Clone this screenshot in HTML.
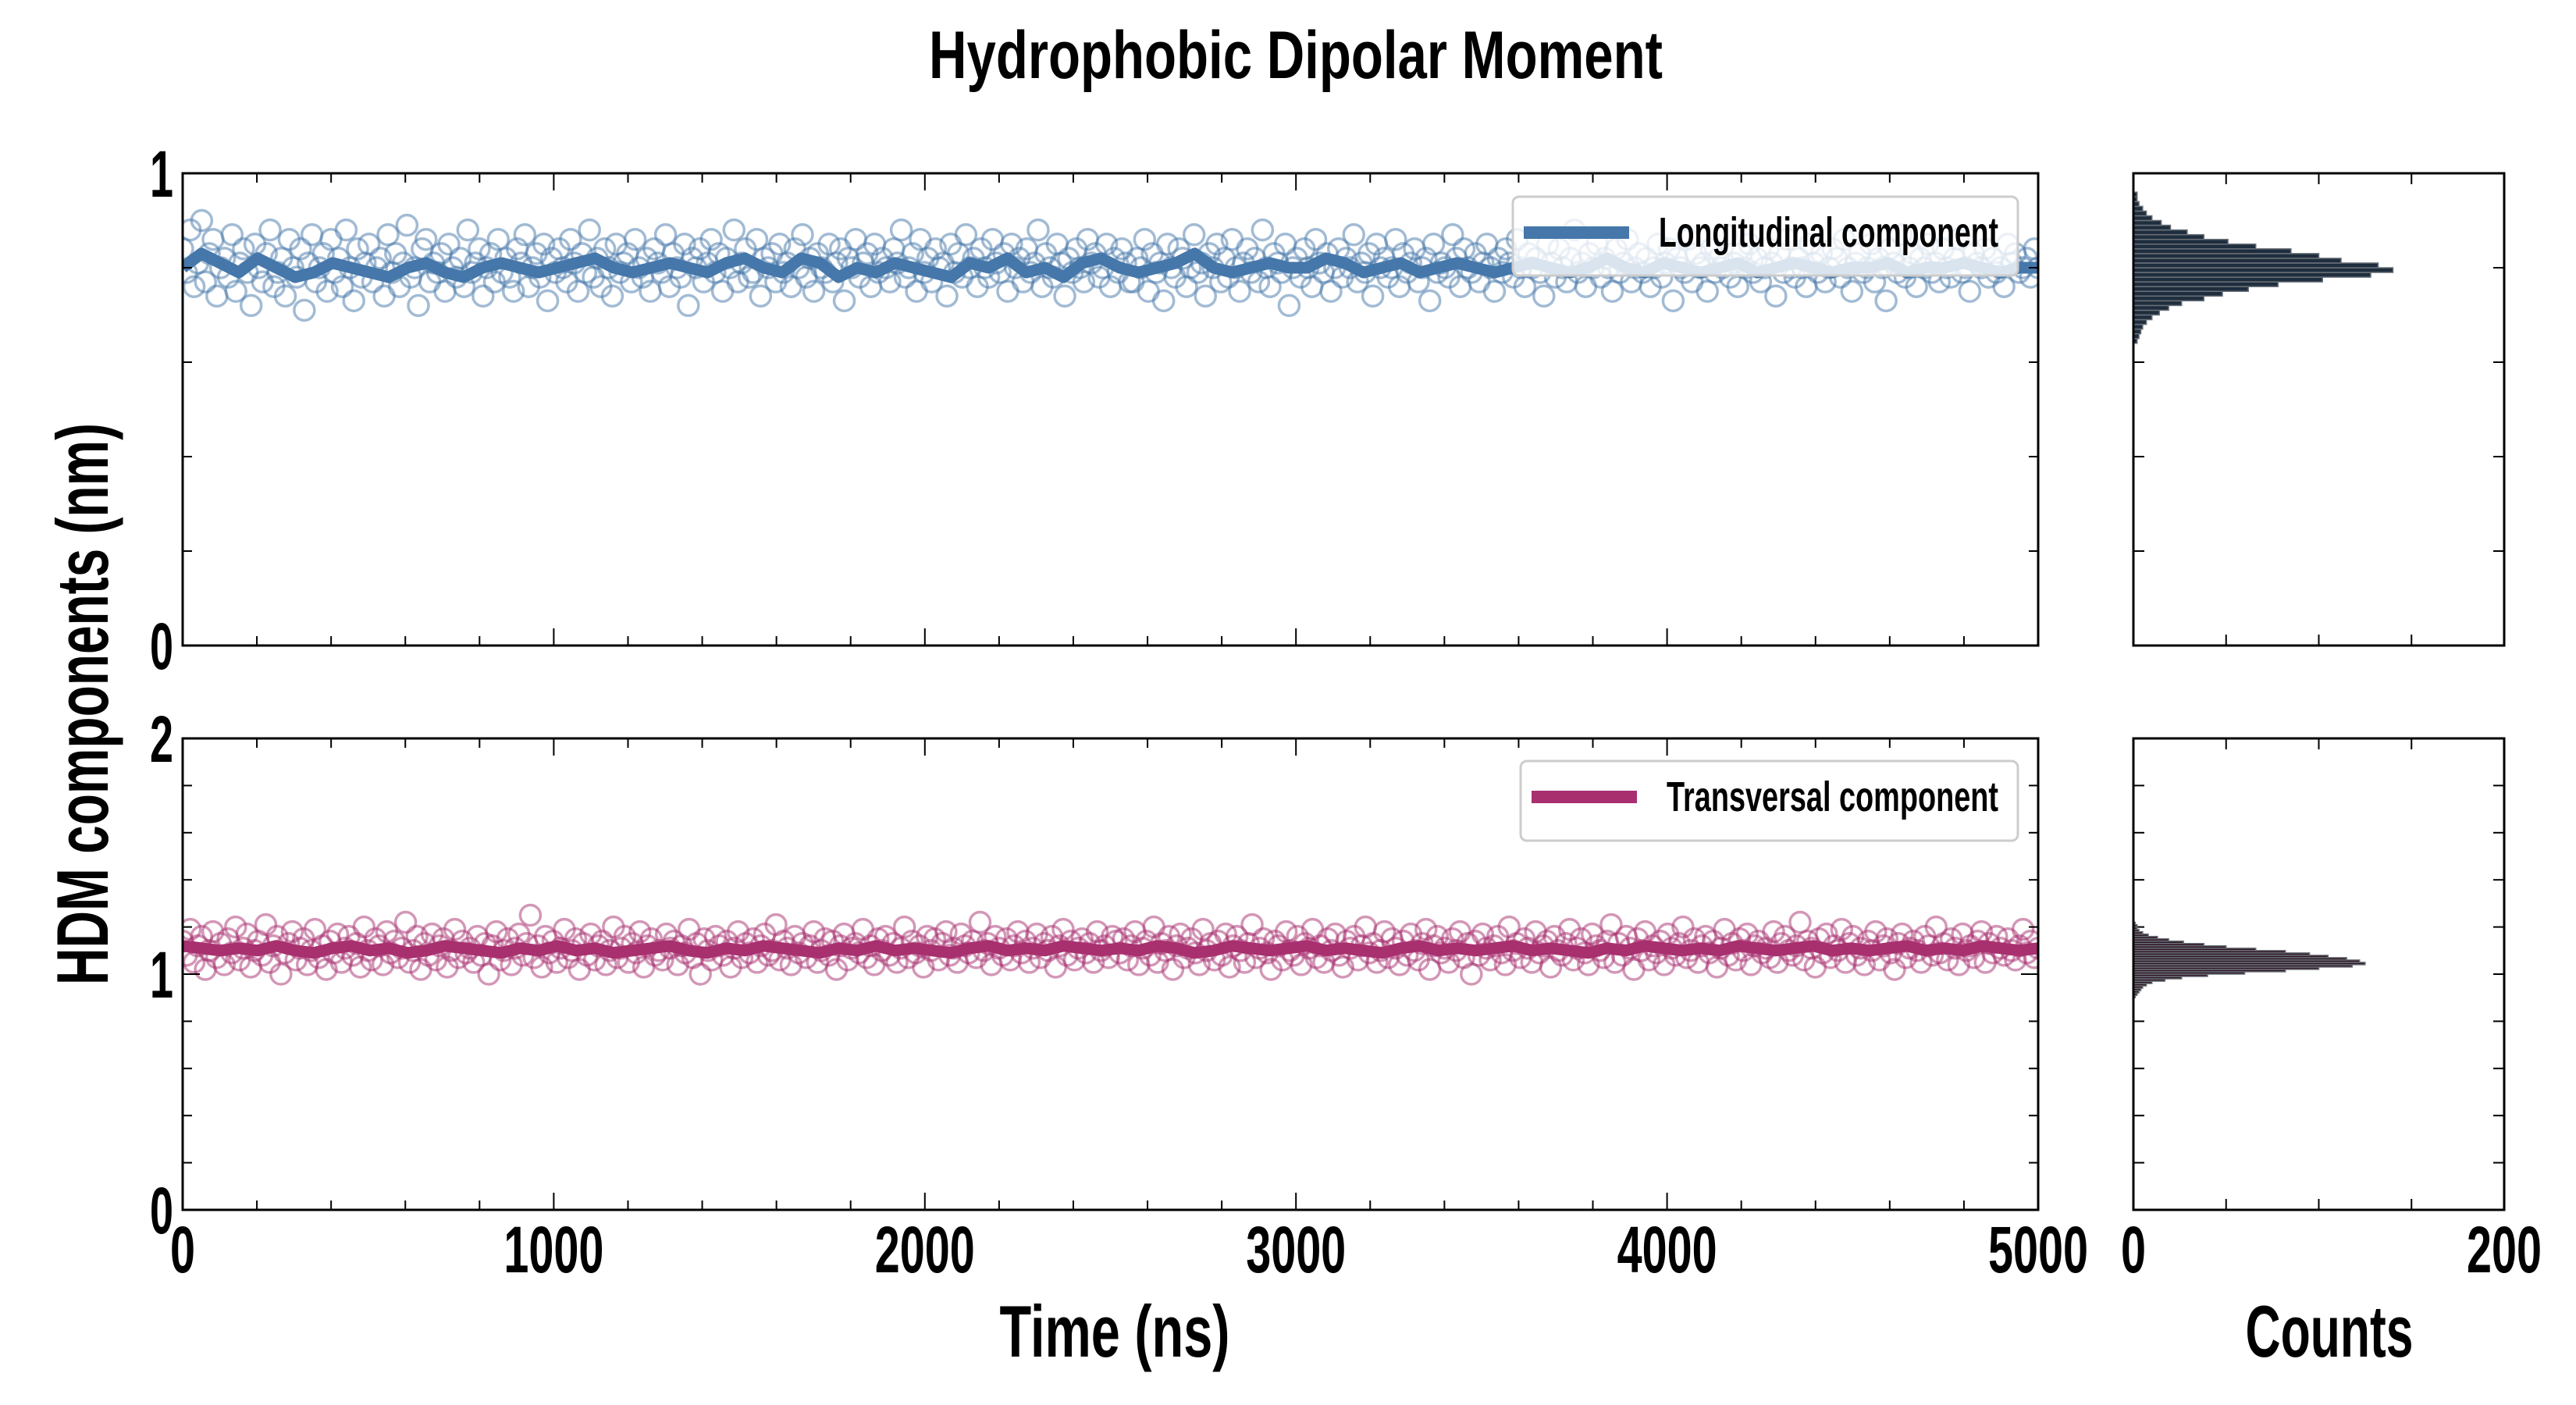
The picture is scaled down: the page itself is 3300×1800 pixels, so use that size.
<!DOCTYPE html>
<html><head><meta charset="utf-8"><title>Hydrophobic Dipolar Moment</title>
<style>
html,body{margin:0;padding:0;background:#fff;}
svg{display:block;}
text{font-family:"Liberation Sans Narrow","Liberation Sans",sans-serif;font-weight:bold;fill:#000;}
</style></head>
<body>
<svg id="chart" width="3300" height="1800" viewBox="0 0 3300 1800" xmlns="http://www.w3.org/2000/svg">
<g id="layer"></g>
</svg>
<script>
// ---- data ----
const timeMax = 5000;
const xTickLabels = [0, 1000, 2000, 3000, 4000, 5000];
const histTickLabels = [0, 200];
const longScatter = [0.84,0.79,0.88,0.76,0.81,0.9,0.77,0.83,0.86,0.74,0.8,0.82,0.78,0.87,0.75,0.81,0.84,0.79,0.72,0.85,0.8,0.77,0.83,0.88,0.76,0.79,0.82,0.74,0.86,0.8,0.78,0.84,0.71,0.81,0.87,0.77,0.8,0.83,0.75,0.86,0.79,0.82,0.76,0.88,0.8,0.73,0.84,0.78,0.81,0.85,0.77,0.8,0.82,0.74,0.87,0.79,0.83,0.76,0.81,0.89,0.78,0.8,0.72,0.84,0.86,0.77,0.81,0.79,0.83,0.75,0.85,0.8,0.78,0.82,0.76,0.88,0.79,0.81,0.84,0.74,0.8,0.83,0.77,0.86,0.79,0.82,0.78,0.75,0.84,0.81,0.87,0.76,0.8,0.83,0.78,0.85,0.73,0.82,0.79,0.84,0.8,0.77,0.86,0.81,0.75,0.83,0.79,0.88,0.78,0.82,0.76,0.84,0.8,0.74,0.85,0.79,0.81,0.83,0.77,0.86,0.8,0.78,0.82,0.75,0.84,0.81,0.79,0.87,0.76,0.83,0.8,0.78,0.85,0.72,0.82,0.8,0.84,0.77,0.81,0.86,0.79,0.83,0.75,0.82,0.8,0.88,0.77,0.81,0.84,0.78,0.79,0.86,0.74,0.82,0.8,0.83,0.77,0.85,0.79,0.81,0.76,0.84,0.8,0.87,0.78,0.82,0.75,0.83,0.8,0.79,0.85,0.77,0.81,0.84,0.73,0.82,0.8,0.86,0.78,0.81,0.83,0.76,0.85,0.79,0.82,0.8,0.77,0.84,0.81,0.88,0.78,0.8,0.83,0.75,0.86,0.79,0.82,0.77,0.84,0.8,0.81,0.74,0.85,0.79,0.83,0.78,0.87,0.8,0.82,0.76,0.84,0.8,0.78,0.86,0.81,0.79,0.83,0.75,0.85,0.8,0.82,0.77,0.84,0.79,0.81,0.88,0.76,0.83,0.8,0.78,0.85,0.81,0.74,0.82,0.79,0.84,0.8,0.77,0.86,0.81,0.83,0.78,0.8,0.85,0.76,0.82,0.79,0.84,0.81,0.77,
0.77,0.82,0.8,0.86,0.75,0.83,0.79,0.81,0.73,0.85,0.8,0.78,0.84,0.82,0.76,0.8,0.87,0.79,0.81,0.74,0.83,0.8,0.85,0.77,0.82,0.78,0.86,0.8,0.75,0.81,0.84,0.79,0.82,0.77,0.88,0.8,0.76,0.83,0.81,0.79,0.85,0.72,0.8,0.82,0.78,0.84,0.8,0.76,0.86,0.81,0.79,0.83,0.75,0.8,0.84,0.78,0.82,0.8,0.87,0.77,0.81,0.79,0.83,0.74,0.85,0.8,0.82,0.78,0.8,0.86,0.76,0.83,0.79,0.81,0.84,0.77,0.8,0.82,0.73,0.85,0.79,0.81,0.8,0.78,0.87,0.82,0.76,0.84,0.8,0.79,0.83,0.77,0.81,0.85,0.8,0.75,0.82,0.79,0.84,0.81,0.78,0.86,0.8,0.76,0.83,0.8,0.82,0.79,0.74,0.85,0.81,0.78,0.84,0.8,0.77,0.82,0.88,0.79,0.81,0.76,0.83,0.8,0.85,0.78,0.82,0.8,0.75,0.84,0.79,0.81,0.86,0.77,0.8,0.83,0.79,0.82,0.76,0.8,0.85,0.78,0.81,0.84,0.73,0.82,0.8,0.79,0.86,0.77,0.83,0.8,0.81,0.75,0.84,0.79,0.82,0.8,0.87,0.78,0.81,0.76,0.83,0.8,0.85,0.79,0.82,0.77,0.8,0.84,0.81,0.74,0.83,0.79,0.86,0.8,0.78,0.82,0.8,0.76,0.85,0.81,0.79,0.83,0.77,0.8,0.84,0.82,0.78,0.86,0.8,0.75,0.81,0.83,0.79,0.8,0.85,0.77,0.82,0.8,0.73,0.84,0.81,0.79,0.87,0.78,0.8,0.83,0.76,0.82,0.8,0.85,0.79,0.81,0.77,0.84,0.8,0.78,0.82,0.86,0.79,0.8,0.75,0.83,0.81,0.8,0.84,0.78,0.82,0.79,0.8,0.76,0.85,0.81,0.83,0.79,0.8,0.82,0.78,0.84,0.8];
const transScatter = [1.14,1.08,1.19,1.05,1.12,1.16,1.02,1.1,1.18,1.07,1.13,1.04,1.15,1.09,1.2,1.06,1.11,1.17,1.03,1.1,1.14,1.08,1.21,1.05,1.12,1.16,1.0,1.09,1.13,1.18,1.06,1.11,1.15,1.04,1.1,1.19,1.07,1.12,1.02,1.14,1.09,1.17,1.05,1.11,1.16,1.08,1.13,1.03,1.2,1.1,1.06,1.15,1.12,1.04,1.18,1.09,1.14,1.07,1.11,1.22,1.05,1.1,1.16,1.02,1.13,1.08,1.17,1.06,1.12,1.15,1.03,1.1,1.19,1.07,1.14,1.09,1.11,1.05,1.16,1.08,1.13,1.0,1.12,1.18,1.06,1.1,1.15,1.04,1.11,1.17,1.08,1.13,1.25,1.07,1.12,1.03,1.16,1.09,1.14,1.05,1.11,1.19,1.07,1.1,1.15,1.02,1.13,1.08,1.17,1.06,1.12,1.14,1.04,1.1,1.2,1.07,1.11,1.16,1.05,1.13,1.09,1.18,1.03,1.12,1.15,1.08,1.1,1.06,1.17,1.11,1.14,1.04,1.12,1.09,1.19,1.07,1.13,1.0,1.15,1.1,1.06,1.16,1.12,1.08,1.14,1.03,1.11,1.18,1.07,1.13,1.09,1.15,1.05,1.12,1.17,1.08,1.1,1.21,1.06,1.14,1.11,1.04,1.16,1.09,1.13,1.07,1.12,1.18,1.05,1.1,1.15,1.08,1.14,1.02,1.12,1.17,1.06,1.11,1.13,1.09,1.19,1.07,1.12,1.04,1.15,1.1,1.16,1.08,1.13,1.05,1.11,1.2,1.07,1.14,1.09,1.12,1.03,1.16,1.1,1.15,1.06,1.13,1.18,1.08,1.11,1.05,1.17,1.12,1.09,1.14,1.07,1.22,1.1,1.13,1.04,1.16,1.11,1.08,1.15,1.06,1.12,1.18,1.09,1.14,1.05,1.11,1.17,1.07,1.13,1.1,1.16,1.03,1.12,1.19,1.08,1.14,1.06,1.11,1.15,1.09,1.13,1.05,1.18,1.1,1.12,1.07,1.16,1.14,
1.09,1.15,1.06,1.12,1.18,1.04,1.11,1.14,1.08,1.2,1.05,1.13,1.1,1.16,1.02,1.12,1.17,1.07,1.11,1.15,1.09,1.04,1.19,1.1,1.13,1.06,1.14,1.08,1.17,1.03,1.12,1.16,1.1,1.05,1.13,1.21,1.07,1.11,1.15,1.09,1.02,1.14,1.12,1.06,1.18,1.1,1.08,1.16,1.04,1.13,1.11,1.19,1.07,1.12,1.05,1.15,1.1,1.17,1.08,1.03,1.14,1.11,1.16,1.06,1.12,1.2,1.09,1.13,1.05,1.1,1.18,1.07,1.15,1.11,1.04,1.14,1.08,1.17,1.1,1.06,1.13,1.19,1.02,1.12,1.16,1.09,1.11,1.05,1.15,1.1,1.18,1.07,1.13,1.0,1.14,1.08,1.17,1.11,1.06,1.12,1.16,1.09,1.04,1.2,1.1,1.13,1.07,1.15,1.11,1.05,1.18,1.09,1.12,1.14,1.03,1.16,1.1,1.08,1.13,1.19,1.06,1.11,1.15,1.09,1.04,1.17,1.12,1.1,1.07,1.14,1.21,1.05,1.13,1.08,1.16,1.11,1.02,1.15,1.1,1.18,1.06,1.12,1.09,1.14,1.04,1.17,1.11,1.08,1.13,1.2,1.07,1.1,1.15,1.05,1.12,1.16,1.09,1.14,1.03,1.11,1.19,1.08,1.13,1.06,1.15,1.1,1.17,1.04,1.12,1.14,1.09,1.11,1.07,1.18,1.05,1.13,1.16,1.1,1.08,1.12,1.22,1.06,1.14,1.11,1.03,1.15,1.09,1.17,1.07,1.12,1.1,1.19,1.05,1.13,1.16,1.08,1.11,1.04,1.14,1.1,1.18,1.06,1.12,1.15,1.09,1.02,1.13,1.17,1.07,1.11,1.14,1.1,1.05,1.16,1.12,1.08,1.2,1.09,1.13,1.06,1.15,1.11,1.04,1.17,1.1,1.12,1.07,1.14,1.18,1.05,1.13,1.09,1.16,1.11,1.08,1.15,1.1,1.06,1.12,1.19,1.09,1.14,1.07,1.11];
const longLine = [0.8,0.83,0.81,0.79,0.82,0.8,0.78,0.79,0.81,0.8,0.79,0.78,0.8,0.81,0.79,0.78,0.8,0.81,0.8,0.79,0.8,0.81,0.82,0.8,0.79,0.8,0.81,0.8,0.79,0.81,0.82,0.8,0.79,0.82,0.81,0.78,0.8,0.79,0.81,0.8,0.79,0.78,0.81,0.8,0.82,0.79,0.8,0.78,0.81,0.82,0.8,0.79,0.8,0.81,0.83,0.8,0.79,0.8,0.81,0.8,0.8,0.82,0.81,0.79,0.8,0.81,0.79,0.8,0.81,0.8,0.79,0.8,0.81,0.8,0.79,0.8,0.82,0.8,0.79,0.81,0.8,0.79,0.8,0.81,0.79,0.8,0.81,0.8,0.79,0.8,0.8,0.81,0.79,0.8,0.8,0.81,0.8,0.79,0.8,0.8];
const transLine = [1.12,1.11,1.1,1.11,1.1,1.12,1.1,1.09,1.11,1.12,1.1,1.11,1.09,1.1,1.12,1.11,1.1,1.09,1.11,1.1,1.12,1.1,1.11,1.09,1.1,1.11,1.12,1.1,1.09,1.11,1.1,1.12,1.11,1.1,1.09,1.11,1.1,1.12,1.1,1.11,1.1,1.09,1.11,1.12,1.1,1.11,1.1,1.12,1.11,1.1,1.11,1.1,1.12,1.11,1.09,1.1,1.12,1.11,1.1,1.11,1.12,1.1,1.11,1.1,1.09,1.11,1.12,1.1,1.11,1.1,1.11,1.12,1.1,1.11,1.1,1.09,1.11,1.1,1.12,1.11,1.1,1.11,1.1,1.12,1.11,1.1,1.11,1.12,1.1,1.11,1.1,1.11,1.12,1.1,1.11,1.1,1.12,1.11,1.1,1.11];
const longBinStart = 0.64;
const longBinWidth = 0.01;
const longCounts = [2,3,4,5,7,10,14,19,26,38,48,62,78,102,128,140,132,112,100,85,66,51,38,29,20,15,10,7,5,3,2,2];
const transBinStart = 0.9;
const transBinWidth = 0.01;
const transCounts = [1,2,3,4,5,7,10,17,26,40,60,82,100,118,125,122,115,105,95,82,66,50,38,27,19,13,8,5,3,2,2,1];

// ---- layout ----
const NS = 'http://www.w3.org/2000/svg';
const layer = document.getElementById('layer');
const L = 234, R = 2611, HL = 2733, HR = 3208;
const panels = [
  {top: 222, bottom: 827, ymax: 1, color: '#4577aa', hist: '#1f2e3e', name: 'longitudinal'},
  {top: 946, bottom: 1550, ymax: 2, color: '#a8306f', hist: '#2e1523', name: 'transversal'}
];
function el(tag, attrs, parent) {
  const e = document.createElementNS(NS, tag);
  for (const k in attrs) e.setAttribute(k, attrs[k]);
  (parent || layer).appendChild(e);
  return e;
}
function xT(t) { return L + (t / timeMax) * (R - L); }
function xH(c) { return HL + (c / 200) * (HR - HL); }
function yP(p, v) { return p.bottom - (v / p.ymax) * (p.bottom - p.top); }

function txt(x, y, s, size, anchor, width, name) {
  const t = el('text', {x: x, y: y, 'font-size': size, 'text-anchor': anchor});
  if (width) { t.setAttribute('textLength', width); t.setAttribute('lengthAdjust', 'spacingAndGlyphs'); }
  t.textContent = s;
  
  
  return t;
}

const scatters = [longScatter, transScatter];
const lines = [longLine, transLine];
const hists = [[longBinStart, longBinWidth, longCounts], [transBinStart, transBinWidth, transCounts]];
const legendText = ['Longitudinal component', 'Transversal component'];
const legendBox = [[1938, 252, 647, 101], [1948, 975, 637, 102]];

panels.forEach((p, pi) => {
  const g = el('g', {});
  
  
  const clip = el('clipPath', {id: 'clip' + pi}, g);
  el('rect', {x: L, y: p.top, width: R - L, height: p.bottom - p.top}, clip);
  const dg = el('g', {'clip-path': 'url(#clip' + pi + ')'}, g);
  const sc = scatters[pi];
  sc.forEach((v, i) => {
    const c = el('circle', {cx: xT(i * timeMax / (sc.length - 1)), cy: yP(p, v), r: 13, fill: 'none', stroke: p.color, 'stroke-width': 3.5, 'stroke-opacity': 0.5}, dg);
    
    
  });
  const ln = lines[pi];
  const pts = ln.map((v, i) => xT(i * timeMax / (ln.length - 1)) + ',' + yP(p, v)).join(' ');
  const pl = el('polyline', {points: pts, fill: 'none', stroke: p.color, 'stroke-width': 15, 'stroke-linejoin': 'round'}, dg);
  
  

  const fr = el('rect', {x: L, y: p.top, width: R - L, height: p.bottom - p.top, fill: 'none', stroke: '#000', 'stroke-width': 3}, g);
  
  
  for (let t = 0; t <= timeMax; t += 200) {
    const len = t % 1000 === 0 ? 22 : 12;
    el('line', {x1: xT(t), x2: xT(t), y1: p.bottom, y2: p.bottom - len, stroke: '#000', 'stroke-width': 2}, g);
    el('line', {x1: xT(t), x2: xT(t), y1: p.top, y2: p.top + len, stroke: '#000', 'stroke-width': 2}, g);
  }
  for (let v = 0; v <= p.ymax + 1e-9; v += 0.2) {
    const major = Math.abs(v - Math.round(v)) < 1e-6;
    const len = major ? 22 : 12;
    el('line', {x1: L, x2: L + len, y1: yP(p, v), y2: yP(p, v), stroke: '#000', 'stroke-width': 2}, g);
    el('line', {x1: R, x2: R - len, y1: yP(p, v), y2: yP(p, v), stroke: '#000', 'stroke-width': 2}, g);
    el('line', {x1: HL, x2: HL + 14, y1: yP(p, v), y2: yP(p, v), stroke: '#000', 'stroke-width': 2}, g);
    el('line', {x1: HR, x2: HR - 14, y1: yP(p, v), y2: yP(p, v), stroke: '#000', 'stroke-width': 2}, g);
  }
  for (let v = 0; v <= p.ymax; v++) {
    txt(L - 12, yP(p, v) + 30, String(v), 84, 'end', 30, p.name + '-y-tick-label');
  }
  const lb = legendBox[pi];
  const lg = el('g', {}, g);
  
  
  el('rect', {x: lb[0], y: lb[1], width: lb[2], height: lb[3], rx: 8, fill: '#fff', 'fill-opacity': 0.8, stroke: '#ccc', 'stroke-width': 3}, lg);
  el('line', {x1: lb[0] + 14, x2: lb[0] + 149, y1: lb[1] + 46, y2: lb[1] + 46, stroke: p.color, 'stroke-width': 16}, lg);
  const lt = txt(lb[0] + 187, lb[1] + 64, legendText[pi], 54, 'start', lb[2] - 212, p.name + '-legend-label');
  lg.appendChild(lt);

  const hg = el('g', {});
  
  
  const hb = hists[pi];
  hb[2].forEach((c, i) => {
    const y0 = yP(p, hb[0] + i * hb[1]), y1 = yP(p, hb[0] + (i + 1) * hb[1]);
    const b = el('rect', {x: HL, y: y1, width: xH(c) - HL, height: y0 - y1, fill: p.hist, stroke: '#6a7078', 'stroke-width': 1.5}, hg);
    
    
  });
  const hf = el('rect', {x: HL, y: p.top, width: HR - HL, height: p.bottom - p.top, fill: 'none', stroke: '#000', 'stroke-width': 3}, hg);
  
  
  [50, 100, 150].forEach(c => {
    el('line', {x1: xH(c), x2: xH(c), y1: p.bottom, y2: p.bottom - 14, stroke: '#000', 'stroke-width': 2}, hg);
    el('line', {x1: xH(c), x2: xH(c), y1: p.top, y2: p.top + 14, stroke: '#000', 'stroke-width': 2}, hg);
  });
});

xTickLabels.forEach(t => txt(xT(t), 1630, String(t), 84, 'middle', String(t).length * 32, 'x-tick-label'));
histTickLabels.forEach(c => txt(xH(c), 1630, String(c), 84, 'middle', String(c).length * 32, 'hist-x-tick-label'));
txt(1660, 100, 'Hydrophobic Dipolar Moment', 86, 'middle', 940, 'chart-title');
txt(1428, 1738, 'Time (ns)', 94, 'middle', 295, 'x-axis-title');
txt(2984, 1738, 'Counts', 94, 'middle', 215, 'hist-x-axis-title');
const yl = txt(0, 0, 'HDM components (nm)', 94, 'middle', 720, 'y-axis-title');
yl.setAttribute('transform', 'translate(138,902) rotate(-90)');
</script>
</body></html>
